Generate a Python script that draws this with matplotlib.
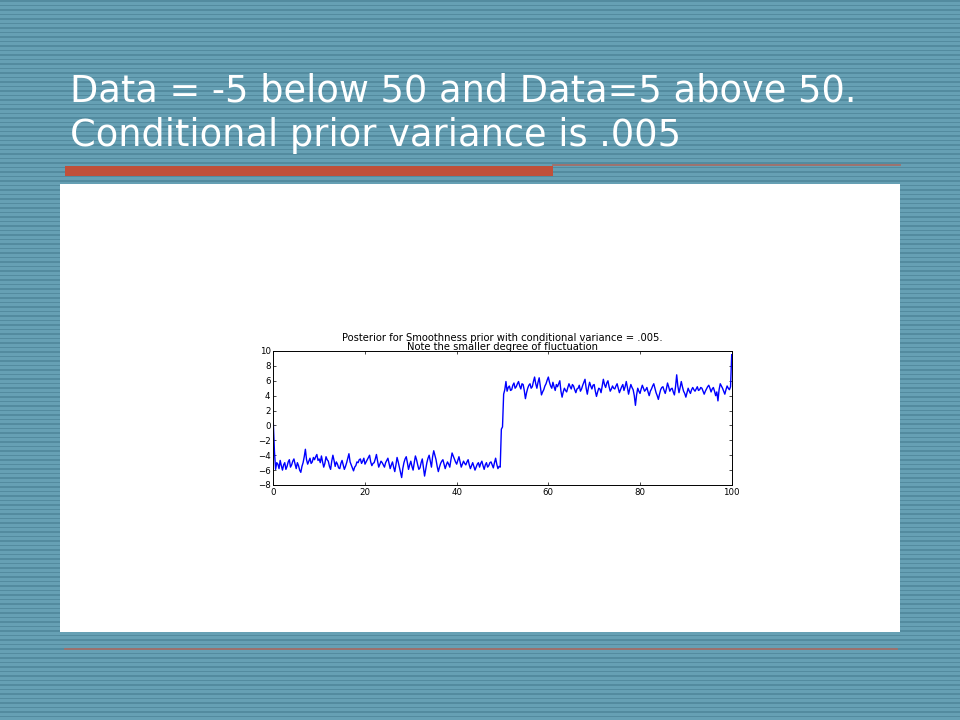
import numpy as np
import matplotlib
matplotlib.use('Agg')
import matplotlib.pyplot as plt
from matplotlib.patches import Rectangle

title1 = 'Data = -5 below 50 and Data=5 above 50.'
title2 = 'Conditional prior variance is .005'
chart_title = ('Posterior for Smoothness prior with conditional variance = .005.\n'
               'Note the smaller degree of fluctuation')

# posterior estimate, one value every 0.25 on x
y_0_10 = [0.3, -3.5, -5.9, -5.0, -5.2, -5.8, -4.7, -5.4, -6.0, -5.3,
          -5.0, -5.9, -5.5, -4.9, -4.6, -5.6, -5.3, -4.8, -4.5, -5.2,
          -5.8, -5.0, -5.4, -6.0, -6.3, -5.5, -5.0, -4.2, -3.2, -4.6,
          -5.2, -4.8, -4.4, -5.1, -4.9, -4.3, -4.6, -4.2, -3.9, -4.7]
y_10_20 = [-4.5, -5.0, -4.1, -4.9, -5.6, -5.1, -4.2, -4.6, -4.8, -5.5,
           -5.9, -4.8, -4.0, -4.7, -5.5, -4.9, -5.2, -5.7, -5.8, -5.1,
           -4.7, -5.3, -5.9, -5.5, -5.0, -4.4, -3.8, -4.9, -5.3, -5.7,
           -6.1, -5.6, -5.4, -4.9, -5.0, -4.6, -4.5, -5.1, -4.8, -4.4]
y_20_30 = [-5.2, -4.9, -4.6, -4.3, -4.0, -4.9, -5.4, -5.1, -5.0, -4.5,
           -3.9, -4.8, -5.6, -5.2, -4.8, -5.0, -5.3, -5.6, -5.0, -4.7,
           -4.4, -5.1, -5.8, -5.3, -4.9, -5.6, -6.2, -5.3, -4.3, -4.9,
           -5.6, -6.3, -7.0, -5.8, -5.0, -4.5, -4.2, -5.0, -5.9, -5.3]
y_30_40 = [-4.8, -5.5, -6.0, -5.0, -4.1, -4.6, -5.3, -5.9, -5.7, -5.0,
           -4.5, -5.6, -6.8, -5.9, -5.0, -4.4, -4.0, -4.8, -5.6, -4.2,
           -3.4, -4.0, -4.6, -5.5, -6.2, -5.6, -5.1, -4.8, -4.6, -5.2,
           -5.8, -5.3, -4.9, -5.2, -5.6, -4.6, -3.7, -4.1, -4.5, -4.9]
y_40_50 = [-5.2, -4.7, -4.2, -4.9, -5.6, -5.2, -4.8, -5.1, -5.3, -4.9,
           -4.6, -5.3, -5.8, -5.4, -5.0, -5.5, -6.0, -5.6, -5.2, -5.0,
           -5.6, -5.1, -4.8, -5.4, -5.9, -5.3, -5.0, -5.6, -5.4, -5.0,
           -4.9, -5.3, -5.7, -5.0, -4.4, -5.2, -5.8, -5.5, -5.6, -0.5]
y_50_60 = [-0.2, 4.2, 4.8, 5.9, 4.6, 5.1, 5.3, 4.7, 4.8, 5.4,
           5.7, 5.0, 5.2, 5.6, 5.9, 5.3, 4.9, 5.6, 5.5, 4.7,
           3.6, 4.4, 5.0, 5.4, 5.6, 5.0, 5.2, 5.9, 6.5, 5.6,
           5.0, 5.8, 6.4, 5.2, 4.1, 4.5, 4.8, 5.3, 5.6, 6.1]
y_60_70 = [6.5, 5.8, 5.3, 5.0, 5.8, 5.2, 4.7, 5.5, 5.2, 5.6,
           6.0, 4.6, 3.8, 4.5, 5.0, 4.7, 4.5, 5.1, 5.6, 5.2,
           4.9, 5.5, 5.3, 4.8, 4.4, 4.9, 5.0, 5.4, 4.6, 4.9,
           5.4, 5.8, 6.2, 5.0, 4.2, 5.1, 5.8, 5.3, 4.9, 5.4]
y_70_80 = [5.5, 4.6, 3.9, 4.5, 5.0, 4.9, 4.4, 5.3, 6.2, 5.5,
           5.1, 5.7, 6.0, 5.2, 4.6, 4.9, 5.3, 5.0, 4.9, 5.3,
           5.6, 5.0, 4.4, 4.8, 5.2, 5.5, 4.7, 5.2, 5.9, 5.1,
           4.2, 4.9, 5.5, 5.1, 4.8, 4.0, 2.7, 4.1, 5.0, 4.6]
y_80_90 = [4.3, 4.9, 5.4, 5.0, 4.6, 4.8, 5.1, 4.5, 4.0, 4.6,
           4.9, 5.3, 5.6, 5.0, 4.4, 4.0, 3.5, 4.2, 4.8, 5.1,
           5.2, 4.7, 4.3, 4.9, 5.7, 5.2, 4.6, 4.9, 5.0, 4.5,
           4.1, 5.2, 6.8, 5.3, 4.4, 5.1, 5.9, 5.2, 4.6, 4.3]
y_90_100 = [3.8, 4.4, 5.0, 4.6, 4.3, 4.8, 5.1, 4.8, 4.6, 4.9,
            5.2, 4.7, 4.8, 5.1, 5.0, 4.6, 4.2, 4.6, 4.9, 5.2,
            5.4, 5.0, 4.5, 4.9, 5.1, 4.6, 4.0, 4.5, 3.3, 4.8,
            5.6, 5.3, 5.0, 4.6, 4.2, 4.8, 5.3, 5.0, 4.8, 5.2, 9.5]

yvals = y_0_10 + y_10_20 + y_20_30 + y_30_40 + y_40_50 + \
        y_50_60 + y_60_70 + y_70_80 + y_80_90 + y_90_100
xvals = np.arange(len(yvals)) * 0.25

xticks = [0, 20, 40, 60, 80, 100]
yticks = [-8, -6, -4, -2, 0, 2, 4, 6, 8, 10]

W, H = 960, 720
fig = plt.figure(figsize=(9.6, 7.2), dpi=100)

# slide background, pixel coordinates
bg = fig.add_axes([0, 0, 1, 1])
bg.set_xlim(0, W)
bg.set_ylim(H, 0)
bg.axis('off')
rows = np.arange(H)
dark = (rows % 4.5) < 1.3
stripe = np.where(dark, 0.0, 1.0).reshape(-1, 1)
cmap = matplotlib.colors.ListedColormap(['#538b9f', '#66a0b4'])
bg.imshow(stripe, cmap=cmap, aspect='auto', extent=(0, W, H, 0),
          interpolation='nearest', vmin=0, vmax=1)

bg.text(70, 102, title1, color='white', fontsize=26.5, family='DejaVu Sans')
bg.text(70, 146, title2, color='white', fontsize=26.5, family='DejaVu Sans')

bg.add_patch(Rectangle((65, 166), 488, 10, color='#c0503a', lw=0))
bg.plot([553, 900], [165, 165], color='#a26f68', lw=1.3)
bg.add_patch(Rectangle((60, 184), 840, 448, color='white', lw=0))
bg.plot([65, 897], [649, 649], color='#a26f68', lw=1.3)

# the embedded chart
ax = fig.add_axes([273.3 / W, 1 - 485 / H, 458.4 / W, 134 / H])
ax.plot(xvals, yvals, color='#0000ff', lw=1.0)
ax.set_xlim(0, 100)
ax.set_ylim(-8, 10)
ax.set_xticks(xticks)
ax.set_yticks(yticks)
ax.tick_params(direction='in', length=2.5, width=0.5, labelsize=6.2,
               top=True, right=True, pad=2)
for s in ax.spines.values():
    s.set_linewidth(0.7)
ax.set_title(chart_title, fontsize=7.2, pad=0.5, linespacing=0.9)

fig.savefig('out.png', dpi=100)
